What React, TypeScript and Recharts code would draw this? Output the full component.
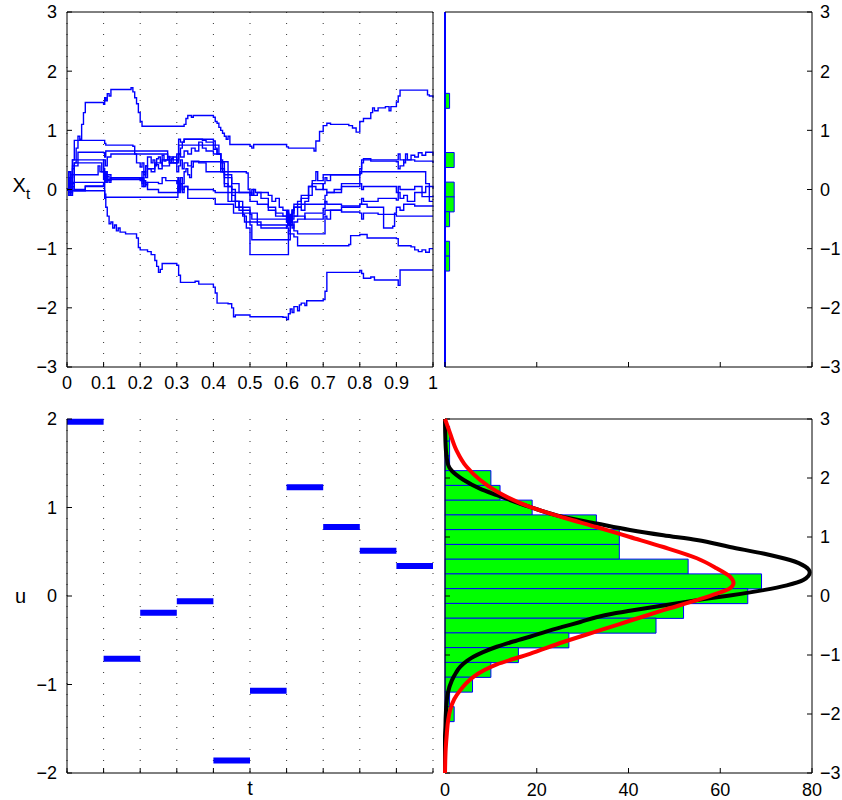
import React from 'react';
import { LineChart, Line, BarChart, Bar, XAxis, YAxis, CartesianGrid, ReferenceLine } from 'recharts';

const FONT = '"Liberation Sans", Arial, Helvetica, sans-serif';
const BLUE = '#0000ff';
const GREEN = '#00ff00';

const tTicks = [0, 0.1, 0.2, 0.3, 0.4, 0.5, 0.6, 0.7, 0.8, 0.9, 1];
const xTicks = [-3, -2, -1, 0, 1, 2, 3];
const uTicks = [-2, -1, 0, 1, 2];
const countTicks = [0, 20, 40, 60, 80];

// ---- sample paths X_t (t, X) ----
const path1: [number, number][] = [[0,0],[0.005,0.2],[0.01,0.1],[0.015,0.35],[0.02,0.45],[0.025,0.7],[0.03,0.9],[0.035,0.85],[0.04,1.1],[0.045,1.3],[0.05,1.47],[0.1,1.44],[0.103,1.55],[0.106,1.5],[0.11,1.62],[0.115,1.58],[0.12,1.69],[0.175,1.72],[0.18,1.65],[0.185,1.55],[0.19,1.45],[0.195,1.3],[0.2,1.15],[0.205,1.07],[0.32,1.1],[0.325,1.2],[0.33,1.25],[0.34,1.22],[0.345,1.25],[0.4,1.22],[0.405,1.15],[0.41,1.12],[0.415,1.05],[0.42,1.0],[0.425,0.95],[0.43,0.9],[0.435,0.85],[0.44,0.9],[0.445,0.76],[0.5,0.73],[0.505,0.7],[0.51,0.76],[0.6,0.72],[0.605,0.7],[0.675,0.65],[0.68,0.82],[0.69,0.98],[0.7,1.08],[0.71,1.12],[0.72,1.1],[0.77,1.08],[0.78,1.04],[0.79,0.97],[0.8,1.15],[0.81,1.2],[0.83,1.3],[0.835,1.38],[0.84,1.33],[0.85,1.38],[0.87,1.4],[0.88,1.33],[0.885,1.4],[0.9,1.48],[0.905,1.58],[0.91,1.68],[0.98,1.68],[0.985,1.6],[0.99,1.58],[1.0,1.55]];
const path2: [number, number][] = [[0,0],[0.005,0.3],[0.01,0.2],[0.015,0.5],[0.02,0.83],[0.1,0.83],[0.103,0.78],[0.106,0.75],[0.18,0.73],[0.185,0.6],[0.19,0.45],[0.2,0.38],[0.205,0.45],[0.21,0.3],[0.215,0.4],[0.22,0.35],[0.24,0.45],[0.26,0.4],[0.28,0.5],[0.3,0.45],[0.305,0.6],[0.31,0.7],[0.315,0.8],[0.32,0.85],[0.36,0.85],[0.4,0.82],[0.405,0.7],[0.41,0.6],[0.42,0.45],[0.43,0.2],[0.44,0.05],[0.45,-0.2],[0.47,-0.3],[0.5,-0.4],[0.52,-0.55],[0.53,-0.65],[0.6,-0.62],[0.603,-0.45],[0.606,-0.6],[0.609,-0.42],[0.612,-0.55],[0.615,-0.4],[0.62,-0.3],[0.63,-0.2],[0.64,-0.1],[0.66,0.05],[0.67,0.15],[0.68,0.3],[0.685,0.15],[0.7,0.25],[0.8,0.27],[0.805,0.45],[0.81,0.5],[0.9,0.5],[0.905,0.6],[0.91,0.5],[0.92,0.45],[0.925,0.6],[0.93,0.5],[0.94,0.58],[0.95,0.55],[0.96,0.62],[0.97,0.58],[0.98,0.63],[1.0,0.58]];
const path3: [number, number][] = [[0,0],[0.005,-0.1],[0.01,0.2],[0.015,0.5],[0.09,0.5],[0.1,0.35],[0.103,0.2],[0.106,0.3],[0.11,0.15],[0.12,0.2],[0.2,0.18],[0.205,0.3],[0.21,0.25],[0.215,0.4],[0.22,0.55],[0.23,0.45],[0.235,0.5],[0.24,0.4],[0.245,0.52],[0.25,0.55],[0.255,0.45],[0.26,0.58],[0.265,0.48],[0.27,0.5],[0.275,0.56],[0.28,0.45],[0.285,0.52],[0.29,0.55],[0.3,0.5],[0.305,0.6],[0.31,0.55],[0.32,0.65],[0.33,0.6],[0.34,0.7],[0.35,0.65],[0.36,0.8],[0.37,0.7],[0.38,0.65],[0.4,0.6],[0.42,0.35],[0.43,0.25],[0.45,0.1],[0.47,-0.05],[0.5,-0.2],[0.52,-0.25],[0.55,-0.35],[0.57,-0.45],[0.6,-0.55],[0.605,-0.45],[0.61,-0.6],[0.615,-0.35],[0.62,-0.3],[0.64,-0.15],[0.66,0.05],[0.67,0.1],[0.7,0.0],[0.71,-0.05],[0.75,0.1],[0.8,0.35],[0.805,0.5],[0.81,0.52],[0.83,0.48],[0.9,0.47],[0.905,0.35],[0.91,0.4],[0.92,0.5],[0.95,0.48],[1.0,0.45]];
const path4: [number, number][] = [[0,0],[0.005,0.3],[0.01,0.1],[0.015,0.4],[0.03,0.63],[0.1,0.62],[0.103,0.55],[0.106,0.65],[0.27,0.65],[0.275,0.55],[0.28,0.45],[0.3,0.3],[0.305,0.4],[0.31,0.5],[0.315,0.35],[0.32,0.45],[0.33,0.4],[0.34,0.48],[0.36,0.45],[0.38,0.3],[0.49,0.28],[0.495,0.0],[0.5,-0.1],[0.505,0.0],[0.51,-0.1],[0.52,-0.05],[0.53,-0.15],[0.55,-0.3],[0.57,-0.4],[0.59,-0.45],[0.6,-0.55],[0.603,-0.4],[0.606,-0.6],[0.61,-0.45],[0.613,-0.55],[0.616,-0.35],[0.62,-0.25],[0.7,-0.25],[0.705,-0.1],[0.71,-0.05],[0.73,0.0],[0.75,0.05],[0.8,0.1],[0.805,0.0],[0.81,0.05],[0.85,0.05],[0.9,-0.05],[0.905,0.05],[0.91,0.0],[0.95,0.05],[0.97,-0.05],[0.98,0.05],[1.0,0.02]];
const path5: [number, number][] = [[0,0],[0.005,0.1],[0.01,-0.1],[0.015,0.12],[0.1,0.12],[0.103,0.25],[0.106,0.15],[0.11,0.22],[0.115,0.12],[0.12,0.2],[0.2,0.18],[0.205,0.05],[0.21,0.15],[0.215,0.08],[0.22,0.12],[0.25,0.1],[0.26,0.2],[0.27,0.15],[0.3,0.1],[0.303,0.2],[0.306,0.0],[0.31,0.1],[0.315,-0.05],[0.32,0.05],[0.33,0.0],[0.4,-0.02],[0.405,-0.05],[0.5,-0.05],[0.505,-0.1],[0.51,0.0],[0.515,-0.05],[0.55,-0.1],[0.56,-0.2],[0.57,-0.15],[0.58,-0.3],[0.59,-0.35],[0.6,-0.45],[0.605,-0.55],[0.61,-0.5],[0.615,-0.65],[0.62,-0.55],[0.63,-0.5],[0.65,-0.4],[0.7,-0.32],[0.705,-0.2],[0.71,-0.25],[0.75,-0.28],[0.8,-0.25],[0.805,-0.15],[0.81,-0.2],[0.85,-0.15],[0.9,-0.18],[0.905,-0.05],[0.91,-0.15],[0.92,-0.1],[0.93,-0.2],[0.95,-0.05],[0.97,-0.12],[1.0,-0.1]];
const path6: [number, number][] = [[0,0],[0.005,-0.05],[0.01,0.05],[0.015,-0.02],[0.1,-0.02],[0.103,-0.08],[0.106,-0.13],[0.3,-0.13],[0.303,0.05],[0.306,-0.05],[0.31,0.1],[0.315,0.0],[0.32,0.05],[0.33,-0.15],[0.4,-0.15],[0.405,-0.25],[0.45,-0.25],[0.455,-0.4],[0.48,-0.42],[0.485,-0.55],[0.5,-0.6],[0.505,-0.85],[0.6,-0.85],[0.605,-0.7],[0.61,-0.5],[0.62,-0.45],[0.63,-0.3],[0.64,-0.35],[0.65,-0.2],[0.66,-0.1],[0.67,0.05],[0.68,0.0],[0.7,0.1],[0.705,0.2],[0.71,0.15],[0.72,0.25],[0.8,0.3],[0.97,0.3],[0.98,0.1],[0.99,-0.2],[1.0,-0.2]];
const path7: [number, number][] = [[0,0],[0.005,0.2],[0.01,0.1],[0.02,0.45],[0.09,0.45],[0.095,0.3],[0.1,0.17],[0.103,0.25],[0.106,0.12],[0.11,0.17],[0.2,0.15],[0.205,0.2],[0.21,0.05],[0.215,0.12],[0.22,0.0],[0.25,-0.05],[0.3,-0.05],[0.303,0.15],[0.306,0.05],[0.31,0.2],[0.315,0.1],[0.32,0.3],[0.325,0.35],[0.33,0.25],[0.335,0.2],[0.34,0.38],[0.345,0.47],[0.435,0.47],[0.44,0.2],[0.45,0.0],[0.46,-0.2],[0.48,-0.4],[0.5,-0.55],[0.52,-0.6],[0.6,-0.65],[0.605,-0.75],[0.61,-0.6],[0.62,-0.7],[0.63,-0.75],[0.7,-0.75],[0.705,-0.45],[0.71,-0.5],[0.72,-0.35],[0.75,-0.3],[0.8,-0.25],[0.82,-0.3],[0.86,-0.3],[0.865,-0.65],[0.89,-0.62],[0.895,-0.4],[0.9,-0.3],[0.91,-0.35],[0.92,-0.25],[0.95,-0.28],[1.0,-0.27]];
const path8: [number, number][] = [[0,0],[0.005,-0.1],[0.01,0.25],[0.08,0.25],[0.085,0.4],[0.09,0.3],[0.1,0.5],[0.105,0.4],[0.11,0.55],[0.12,0.6],[0.27,0.6],[0.275,0.5],[0.28,0.55],[0.29,0.45],[0.3,0.5],[0.305,0.75],[0.41,0.75],[0.415,0.6],[0.42,0.3],[0.43,0.1],[0.44,-0.2],[0.47,-0.35],[0.5,-0.42],[0.505,-0.5],[0.6,-0.5],[0.603,-0.35],[0.606,-0.6],[0.61,-0.55],[0.615,-0.35],[0.62,-0.45],[0.65,-0.5],[0.7,-0.42],[0.705,-0.35],[0.75,-0.38],[0.8,-0.4],[0.805,-0.5],[0.81,-0.4],[0.85,-0.42],[0.9,-0.45],[1.0,-0.45]];
const path9: [number, number][] = [[0,0],[0.005,0.15],[0.01,-0.05],[0.015,0.1],[0.02,0.0],[0.05,0.06],[0.1,0.1],[0.103,0.3],[0.106,0.2],[0.11,0.25],[0.12,0.18],[0.2,0.2],[0.205,0.1],[0.21,0.3],[0.215,0.2],[0.22,0.35],[0.23,0.3],[0.24,0.42],[0.25,0.35],[0.26,0.5],[0.28,0.45],[0.3,0.6],[0.305,0.85],[0.31,0.8],[0.32,0.85],[0.37,0.83],[0.38,0.8],[0.4,0.68],[0.41,0.6],[0.42,0.5],[0.425,0.3],[0.43,0.05],[0.45,-0.1],[0.46,-0.3],[0.48,-0.45],[0.49,-0.65],[0.5,-1.1],[0.6,-1.1],[0.605,-0.85],[0.61,-0.75],[0.62,-0.8],[0.63,-0.95],[0.77,-0.93],[0.775,-0.78],[0.8,-0.76],[0.82,-0.82],[0.9,-0.83],[0.905,-0.95],[0.94,-0.97],[0.95,-1.02],[0.96,-1.05],[0.97,-1.02],[0.98,-1.06],[0.99,-1.0],[1.0,-1.0]];
const path10: [number, number][] = [[0,0],[0.01,0.05],[0.02,-0.02],[0.05,0.05],[0.1,0.08],[0.103,-0.15],[0.106,-0.3],[0.11,-0.45],[0.115,-0.58],[0.12,-0.55],[0.125,-0.65],[0.13,-0.6],[0.135,-0.7],[0.14,-0.65],[0.145,-0.72],[0.16,-0.75],[0.19,-0.82],[0.195,-0.98],[0.2,-1.02],[0.22,-1.05],[0.23,-1.1],[0.24,-1.2],[0.245,-1.3],[0.25,-1.4],[0.255,-1.35],[0.26,-1.25],[0.3,-1.28],[0.305,-1.45],[0.31,-1.57],[0.35,-1.55],[0.36,-1.6],[0.4,-1.65],[0.405,-1.75],[0.41,-1.92],[0.44,-1.93],[0.45,-2.0],[0.455,-2.15],[0.46,-2.12],[0.5,-2.15],[0.59,-2.16],[0.6,-2.2],[0.605,-2.1],[0.61,-2.02],[0.615,-2.08],[0.62,-1.98],[0.63,-2.05],[0.635,-1.95],[0.64,-1.92],[0.65,-1.96],[0.655,-1.88],[0.7,-1.86],[0.705,-1.72],[0.71,-1.4],[0.8,-1.37],[0.805,-1.42],[0.81,-1.5],[0.83,-1.48],[0.84,-1.53],[0.9,-1.53],[0.905,-1.62],[0.91,-1.36],[1.0,-1.36]];
const paths = [path1, path2, path3, path4, path5, path6, path7, path8, path9, path10];

// ---- control u (piecewise constant) ----
const uTimes = [0, 0.1, 0.2, 0.3, 0.4, 0.5, 0.6, 0.7, 0.8, 0.9, 1];
const uValues = [1.97, -0.71, -0.19, -0.06, -1.86, -1.07, 1.23, 0.78, 0.51, 0.34];

// ---- histogram of final values (top right) ----
const finalBins = [1.5, 1.25, 1.0, 0.75, 0.5, 0.25, 0, -0.25, -0.5, -0.75, -1.0, -1.25];
const finalCounts = [1, 0, 0, 0, 2, 0, 2, 2, 1, 0, 1, 1];

// ---- histogram (bottom right) ----
const histBins = [2.75, 2.5, 2.25, 2.0, 1.75, 1.5, 1.25, 1.0, 0.75, 0.5, 0.25, 0, -0.25, -0.5, -0.75, -1.0, -1.25, -1.5, -1.75, -2.0];
const histCounts = [1, 1, 1, 10, 12, 19, 33, 38, 38, 53, 69, 66, 52, 46, 27, 16, 10, 6, 1, 2];

// ---- density curves (y, value) ----
const blackCurve: [number, number][] = [[-3,0],[-2.4,0],[-2.2,0.1],[-2.05,0.15],[-1.85,0.3],[-1.65,0.6],[-1.43,1.5],[-1.3,2.4],[-1.2,3.3],[-1.1,4.8],[-1.03,6.2],[-0.95,8.3],[-0.86,11.3],[-0.78,14.5],[-0.69,18.5],[-0.6,22.2],[-0.52,25.8],[-0.44,29.5],[-0.36,33],[-0.3,36.5],[-0.25,40.3],[-0.16,47.6],[-0.07,54.9],[0.01,62.1],[0.1,69.4],[0.18,74.5],[0.27,78.1],[0.4,79.5],[0.5,78.5],[0.61,75.2],[0.72,69.4],[0.83,62.1],[0.95,54.9],[1.03,47.6],[1.12,40.3],[1.23,33],[1.34,25.8],[1.51,18.5],[1.71,11.3],[1.82,7.6],[1.97,4],[2.12,1.5],[2.22,0.7],[2.47,0.2],[2.75,0.05],[3,0]];
const redCurve: [number, number][] = [[-3,0],[-2.6,0.15],[-2.33,0.4],[-2.1,0.7],[-1.94,1.1],[-1.75,2.0],[-1.6,3.3],[-1.48,4.6],[-1.37,6.2],[-1.16,11.3],[-0.98,18.5],[-0.78,25.8],[-0.6,33],[-0.42,40.3],[-0.24,47.6],[-0.07,54.9],[0.04,59.2],[0.13,62.1],[0.22,62.9],[0.33,62.1],[0.47,59.2],[0.64,54.9],[0.83,47.6],[1.0,40.3],[1.17,33],[1.33,25.8],[1.51,18.5],[1.77,11.3],[1.97,7.6],[2.19,4.7],[2.47,2.5],[2.76,1.1],[3,0]];

const fmtNum = (v: number) => (v < 0 ? '\u2212' + String(-v) : String(v));
const fmtT = (v: number) => (v === 0 || v === 1 ? String(v) : v.toFixed(1));
const empty = () => '';
const tickStyle = { fontSize: 18, fontFamily: FONT, fill: '#000' };

const pathRows = paths.map((p) => p.map(([t, x]) => ({ t, x })));
const segRows = uValues.flatMap((u, k) => [
  { t: uTimes[k], u },
  { t: uTimes[k + 1], u },
  { t: uTimes[k + 1], u: null as number | null },
]);
const finalRows = finalBins.map((y, i) => ({ y, n: finalCounts[i] }));
const histRows = histBins.map((y, i) => ({ y, n: histCounts[i] }));
const blackRows = blackCurve.map(([y, n]) => ({ y, n }));
const redRows = redCurve.map(([y, n]) => ({ y, n }));

const abs = (left: number, top: number): React.CSSProperties => ({ position: 'absolute', left, top });

export default function App() {
  return (
    <div style={{ position: 'absolute', left: 0, top: 0, width: 842, height: 800, background: '#fff', fontFamily: FONT }}>
      {/* top-left: sample paths */}
      <div style={abs(0, 0)}>
        <LineChart width={440} height={400} margin={{ top: 11, right: 6, bottom: 0, left: 0 }}>
          <CartesianGrid xAxisId="b" yAxisId="l" horizontal={false} strokeDasharray="1 10" stroke="#333" />
          <XAxis xAxisId="b" type="number" dataKey="t" domain={[0, 1]} ticks={tTicks} interval={0} tickFormatter={fmtT} height={33} tickSize={-5} tickMargin={14} stroke="#000" tick={tickStyle} />
          <XAxis xAxisId="tp" orientation="top" type="number" dataKey="t" domain={[0, 1]} ticks={tTicks} interval={0} tickFormatter={empty} height={1} tickSize={-5} stroke="#000" />
          <YAxis yAxisId="l" type="number" domain={[-3, 3]} ticks={xTicks} interval={0} tickFormatter={fmtNum} width={67} tickSize={-5} tickMargin={15} stroke="#000" tick={tickStyle} />
          <YAxis yAxisId="r" orientation="right" type="number" domain={[-3, 3]} ticks={xTicks} interval={0} tickFormatter={empty} width={1} tickSize={-5} stroke="#000" />
          {pathRows.map((rows, i) => (
            <Line key={i} xAxisId="b" yAxisId="l" data={rows} dataKey="x" type="stepAfter" stroke={BLUE} strokeWidth={1.4} dot={false} activeDot={false} isAnimationActive={false} />
          ))}
        </LineChart>
      </div>

      {/* top-right: histogram of final values */}
      <div style={abs(440, 0)}>
        <BarChart layout="vertical" width={402} height={400} margin={{ top: 11, right: 0, bottom: 0, left: 5 }} barCategoryGap={0} barGap={0} data={finalRows}>
          <XAxis xAxisId="b" type="number" domain={[0, 80]} ticks={countTicks} interval={0} tickFormatter={empty} height={33} tickSize={-5} stroke="#000" />
          <XAxis xAxisId="tp" orientation="top" type="number" domain={[0, 80]} ticks={countTicks} interval={0} tickFormatter={empty} height={1} tickSize={-5} stroke="#000" />
          <YAxis yAxisId="r" orientation="right" type="number" dataKey="y" reversed domain={[-3, 3]} ticks={xTicks} interval={0} tickFormatter={fmtNum} width={30} tickSize={-5} tickMargin={13} stroke="#000" tick={tickStyle} />
          <Bar xAxisId="b" yAxisId="r" dataKey="n" fill={GREEN} stroke={BLUE} strokeWidth={1} isAnimationActive={false} />
          <ReferenceLine xAxisId="b" yAxisId="r" x={0} stroke={BLUE} strokeWidth={2} />
        </BarChart>
      </div>

      {/* bottom-left: control u */}
      <div style={abs(0, 400)}>
        <LineChart width={440} height={400} margin={{ top: 19, right: 7, bottom: 0, left: 0 }} data={segRows}>
          <CartesianGrid xAxisId="b" yAxisId="l" horizontal={false} strokeDasharray="1 10" stroke="#333" />
          <XAxis xAxisId="b" type="number" dataKey="t" domain={[0, 1]} ticks={tTicks} interval={0} tickFormatter={empty} height={27} tickSize={-5} stroke="#000" />
          <YAxis yAxisId="l" type="number" domain={[-2, 2]} ticks={uTicks} interval={0} tickFormatter={fmtNum} width={67} tickSize={-5} tickMargin={15} stroke="#000" tick={tickStyle} />
          <Line xAxisId="b" yAxisId="l" dataKey="u" type="linear" stroke={BLUE} strokeWidth={6} dot={false} activeDot={false} connectNulls={false} isAnimationActive={false} />
        </LineChart>
      </div>

      {/* bottom-right: histogram */}
      <div style={abs(440, 400)}>
        <BarChart layout="vertical" width={402} height={400} margin={{ top: 18, right: 0, bottom: 0, left: 4 }} barCategoryGap={0} barGap={0} data={histRows}>
          <XAxis xAxisId="b" type="number" domain={[0, 80]} ticks={countTicks} interval={0} tickFormatter={fmtNum} height={27} tickSize={-5} tickMargin={15} stroke="#000" tick={tickStyle} />
          <XAxis xAxisId="tp" orientation="top" type="number" domain={[0, 80]} ticks={countTicks} interval={0} tickFormatter={empty} height={1} tickSize={-5} stroke="#000" />
          <YAxis yAxisId="l" type="number" dataKey="y" reversed domain={[-3, 3]} ticks={xTicks} interval={0} tickFormatter={empty} width={1} tickSize={-5} stroke="#000" />
          <YAxis yAxisId="r" orientation="right" type="number" dataKey="y" reversed domain={[-3, 3]} ticks={xTicks} interval={0} tickFormatter={fmtNum} width={30} tickSize={-5} tickMargin={13} stroke="#000" tick={tickStyle} />
          <Bar xAxisId="b" yAxisId="r" dataKey="n" fill={GREEN} stroke={BLUE} strokeWidth={1} isAnimationActive={false} />
        </BarChart>
      </div>
      {/* bottom-right: density curves overlay */}
      <div style={abs(440, 400)}>
        <LineChart layout="vertical" width={402} height={400} margin={{ top: 19, right: 30, bottom: 27, left: 5 }}>
          <XAxis xAxisId="b" hide type="number" domain={[0, 80]} />
          <YAxis yAxisId="l" hide type="number" dataKey="y" reversed domain={[-3, 3]} />
          <Line xAxisId="b" yAxisId="l" data={blackRows} dataKey="n" type="monotone" stroke="#000" strokeWidth={4} dot={false} activeDot={false} isAnimationActive={false} />
          <Line xAxisId="b" yAxisId="l" data={redRows} dataKey="n" type="monotone" stroke="#ff0000" strokeWidth={4} dot={false} activeDot={false} isAnimationActive={false} />
        </LineChart>
      </div>

      {/* axis labels */}
      <svg width={842} height={800} style={{ position: 'absolute', left: 0, top: 0, pointerEvents: 'none' }}>
        <text x={12.5} y={192} fontSize={20} fontFamily={FONT} fill="#000">X</text>
        <text x={26} y={199} fontSize={15} fontFamily={FONT} fill="#000">t</text>
        <text x={15} y={603} fontSize={20} fontFamily={FONT} fill="#000">u</text>
        <text x={250} y={795} fontSize={20} fontFamily={FONT} fill="#000" textAnchor="middle">t</text>
      </svg>
    </div>
  );
}
